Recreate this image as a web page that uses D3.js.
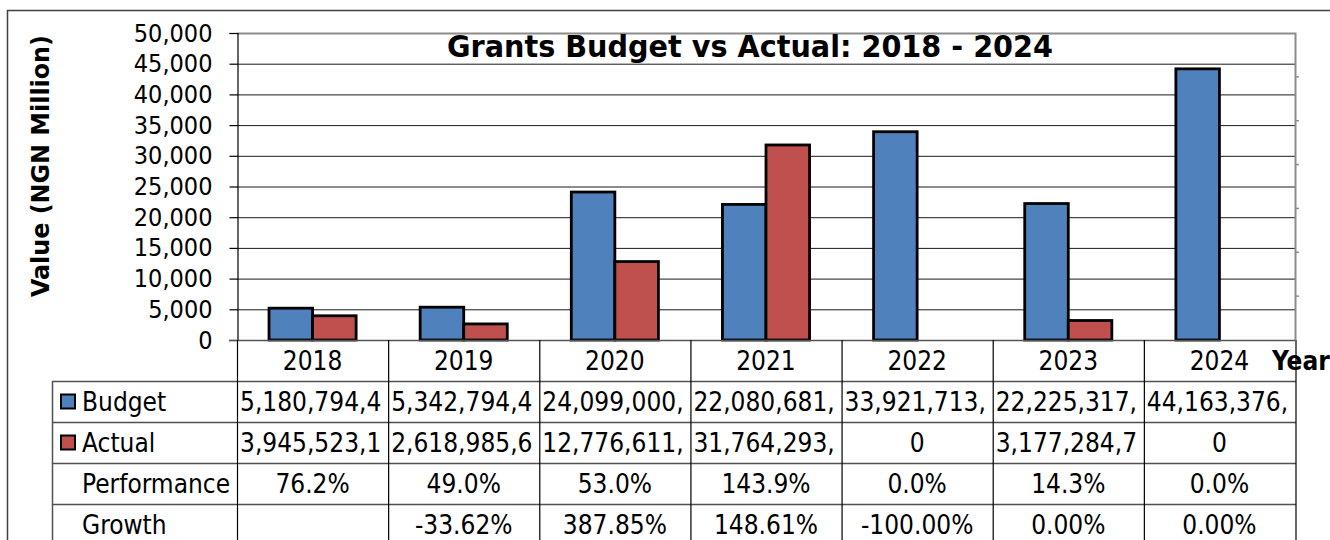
<!DOCTYPE html>
<html>
<head>
<meta charset="utf-8">
<script src="https://cdn.jsdelivr.net/npm/d3@7"></script>
<style>
  html, body { margin: 0; padding: 0; background: #fff; }
  svg { display: block; }
  text { font-family: "DejaVu Sans Condensed", "DejaVu Sans", sans-serif; font-stretch: condensed; fill: #000; }
</style>
</head>
<body>
<svg id="chart" width="1330" height="540"></svg>
<script>
// Grants budget vs actual, values in NGN
const years = ["2018", "2019", "2020", "2021", "2022", "2023", "2024"];
const budget = [5180794400, 5342794400, 24099000000, 22080681000, 33921713000, 22225317000, 44163376000];
const actual = [3945523100, 2618985600, 12776611000, 31764293000, 0, 3177284700, 0];
const performance = ["76.2%", "49.0%", "53.0%", "143.9%", "0.0%", "14.3%", "0.0%"];
const growth = ["", "-33.62%", "387.85%", "148.61%", "-100.00%", "0.00%", "0.00%"];
const seriesNames = ["Budget", "Actual"];
const seriesColors = ["#4F81BD", "#C0504D"];
const yTicks = [0, 5000, 10000, 15000, 20000, 25000, 30000, 35000, 40000, 45000, 50000];

const svg = d3.select("#chart");
const plot = { left: 237, right: 1295, top: 33, bottom: 340 };
const rowH = 41;
const tableLeft = 52;
const fontSize = 25;
const tableFont = 26;

// outer frame (left and top edges visible)
svg.append("path")
  .attr("d", "M7.5,545 V10.5 H1335")
  .attr("fill", "none").attr("stroke", "#404040").attr("stroke-width", 1.5);

const x = d3.scaleBand().domain(years).range([plot.left, plot.right]).padding(0);
const xs = d3.scaleBand().domain(seriesNames).range([0, x.bandwidth()]).paddingInner(0).paddingOuter(0.735);
const y = d3.scaleLinear().domain([0, 50000]).range([plot.bottom, plot.top]);

// gridlines
svg.append("g").selectAll("line").data(yTicks.filter(t => t > 0 && t < 50000)).join("line")
  .attr("x1", plot.left).attr("x2", plot.right)
  .attr("y1", d => y(d) + 0.5).attr("y2", d => y(d) + 0.5)
  .attr("stroke", "#1a1a1a").attr("stroke-width", 1);

// plot border: top and right in grey
svg.append("path")
  .attr("d", `M${plot.left},${y(50000) + 0.5} H${plot.right + 0.5} V${plot.bottom}`)
  .attr("fill", "none").attr("stroke", "#8c8c8c").attr("stroke-width", 2);

// small marks on the right edge
const yRight = d3.scaleLinear().domain([0, 7]).range([plot.bottom, plot.top]);
svg.append("g").selectAll("line").data(d3.range(1, 7)).join("line")
  .attr("x1", plot.right + 1).attr("x2", plot.right + 4)
  .attr("y1", d => yRight(d)).attr("y2", d => yRight(d))
  .attr("stroke", "#8c8c8c").attr("stroke-width", 1.5);

// y axis
const yAxis = d3.axisLeft(y).tickValues(yTicks).tickSize(8).tickPadding(17)
  .tickFormat(d3.format(","));
const yg = svg.append("g").attr("transform", `translate(${plot.left + 0.5},0)`).call(yAxis);
yg.select(".domain").attr("stroke", "#000").attr("stroke-width", 1.2);
yg.selectAll(".tick line").attr("stroke", "#000").attr("stroke-width", 1.2);
yg.selectAll(".tick text").attr("font-size", fontSize).attr("font-family", null).attr("fill", "#000");

// bars
const groups = svg.append("g").selectAll("g").data(years).join("g")
  .attr("transform", d => `translate(${x(d)},0)`);
groups.selectAll("rect")
  .data((d, i) => seriesNames.map((s, j) => ({ s, j, v: (j === 0 ? budget[i] : actual[i]) / 1e6 })))
  .join("rect")
  .attr("x", d => xs(d.s))
  .attr("width", xs.bandwidth())
  .attr("y", d => y(d.v))
  .attr("height", d => y(0) - y(d.v))
  .attr("fill", d => seriesColors[d.j])
  .attr("stroke", d => d.v > 0 ? "#000" : "none")
  .attr("stroke-width", 2.8);

// zero line
svg.append("line").attr("x1", plot.left - 8).attr("x2", plot.right)
  .attr("y1", plot.bottom + 0.5).attr("y2", plot.bottom + 0.5)
  .attr("stroke", "#555").attr("stroke-width", 1.5);

// data table
const table = svg.append("g");
const rowsTop = plot.bottom + rowH; // first data row top
const nRows = 4;
// horizontal rules
d3.range(0, nRows + 1).forEach(r => {
  table.append("line")
    .attr("x1", tableLeft).attr("x2", plot.right + 1)
    .attr("y1", rowsTop + r * rowH + 0.5).attr("y2", rowsTop + r * rowH + 0.5)
    .attr("stroke", "#505050").attr("stroke-width", 1.5);
});
// vertical rules
const vx = years.map(d => x(d)).concat([plot.right + 0.5]);
vx.forEach(v => {
  table.append("line")
    .attr("x1", v + 0.5).attr("x2", v + 0.5)
    .attr("y1", plot.bottom).attr("y2", 545)
    .attr("stroke", "#000").attr("stroke-width", 1.2);
});
table.append("line")
  .attr("x1", tableLeft + 0.5).attr("x2", tableLeft + 0.5)
  .attr("y1", rowsTop).attr("y2", 545)
  .attr("stroke", "#505050").attr("stroke-width", 1.5);

// header years
table.selectAll("text.year").data(years).join("text")
  .attr("class", "year")
  .attr("x", d => x(d) + x.bandwidth() / 2)
  .attr("y", plot.bottom + rowH / 2)
  .attr("dy", "0.36em")
  .attr("text-anchor", "middle")
  .attr("font-size", tableFont)
  .text(d => d);

svg.append("text")
  .attr("x", 1272).attr("y", plot.bottom + rowH / 2).attr("dy", "0.36em")
  .attr("font-size", tableFont).attr("font-weight", "bold")
  .text("Year");

// row labels with legend keys
const rowLabels = ["Budget", "Actual", "Performance", "Growth"];
rowLabels.forEach((lab, r) => {
  const cy = rowsTop + r * rowH + rowH / 2;
  if (r < 2) {
    table.append("rect")
      .attr("x", 61).attr("y", cy - 7).attr("width", 14).attr("height", 14)
      .attr("fill", seriesColors[r]).attr("stroke", "#000").attr("stroke-width", 2);
  }
  table.append("text")
    .attr("x", 82).attr("y", cy).attr("dy", "0.36em")
    .attr("font-size", tableFont)
    .text(lab);
});

// cell values: amounts are cut to what fits in the cell
const fmt = d3.format(",");
const rowsData = [budget.map(fmt), actual.map(fmt), performance, growth];
rowsData.forEach((vals, r) => {
  const cy = rowsTop + r * rowH + rowH / 2;
  vals.forEach((v, i) => {
    const t = table.append("text")
      .attr("y", cy).attr("dy", "0.36em")
      .attr("font-size", tableFont)
      .text(v);
    const avail = x.bandwidth() - 4;
    if (t.node().getComputedTextLength() > avail) {
      let s = v;
      while (s.length > 1) {
        s = s.slice(0, -1);
        t.text(s);
        if (t.node().getComputedTextLength() <= avail) break;
      }
      t.attr("x", x(years[i]) + 3).attr("text-anchor", "start");
    } else {
      t.attr("x", x(years[i]) + x.bandwidth() / 2).attr("text-anchor", "middle");
    }
  });
});

// title
svg.append("text")
  .attr("x", 750).attr("y", 57)
  .attr("text-anchor", "middle")
  .attr("font-size", 30).attr("font-weight", "bold")
  .attr("textLength", 606).attr("lengthAdjust", "spacingAndGlyphs")
  .text("Grants Budget vs Actual: 2018 - 2024");

// y axis title
svg.append("text")
  .attr("transform", "translate(40,166) rotate(-90)")
  .attr("text-anchor", "middle").attr("dy", "0.36em")
  .attr("font-size", 25).attr("font-weight", "bold")
  .attr("textLength", 262).attr("lengthAdjust", "spacingAndGlyphs")
  .text("Value (NGN Million)");
</script>
</body>
</html>
